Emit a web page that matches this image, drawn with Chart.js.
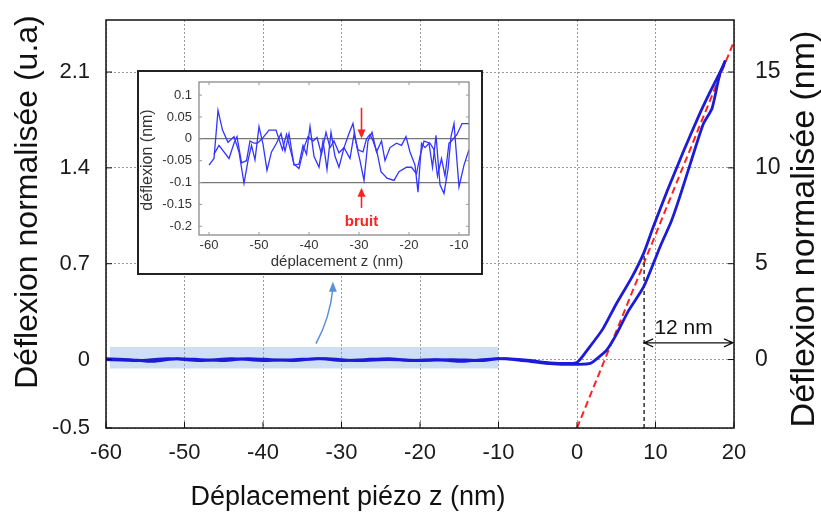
<!DOCTYPE html>
<html>
<head>
<meta charset="utf-8">
<script src="https://cdn.jsdelivr.net/npm/chart.js@4.4.1/dist/chart.umd.min.js"></script>
<style>
html, body { margin: 0; padding: 0; background: #fff; }
#wrap { position: relative; width: 821px; height: 517px; }
#main { position: absolute; left: 0; top: 0; }
#insetBox { position: absolute; left: 137px; top: 70px; width: 346px; height: 205px;
  box-sizing: border-box; border: 2px solid #222; background: #fff; }
#inset { display: block; }
</style>
</head>
<body>
<div id="wrap">
  <canvas id="main" width="821" height="517"></canvas>
  <div id="insetBox"><canvas id="inset" width="342" height="201"></canvas></div>
</div>
<script>
// ---- data (main plot, deflection in nm vs piezo z in nm) ----
const approachX = [-60,-57,-54,-51,-48,-45,-42,-39,-36,-33,-30,-27,-24,-21,-18,-15,-12,-9,-6,-4,-2,0,1.5,3.3,5,7,8.5,9.7,11.5,13.5,15.5,17,18.6,18.9];
const approachY = [0.05,0,-0.1,0.05,0,-0.05,0.05,0,-0.05,0.05,-0.05,0,0.05,-0.05,0,-0.1,0,0.05,-0.05,-0.15,-0.2,-0.15,0.6,1.6,2.9,4.3,5.55,6.9,8.8,10.8,12.7,14.0,15.3,15.6];
const retractX = [-60,-56,-52,-48,-44,-40,-36,-32,-28,-24,-20,-16,-12,-10,-8,-6,-4,-2,0,1.7,3,3.8,5,6.5,8.5,10.6,12,13.1,14.5,16.1,17.2,18.2,18.9];
const retractY = [0,-0.05,0.05,-0.05,0.05,-0.05,0,0.05,-0.05,0,-0.05,0,-0.05,0.05,0,-0.1,-0.2,-0.25,-0.25,-0.2,0.2,0.5,1.3,2.5,3.8,5.9,7.2,8.5,10.3,12.3,13.1,14.9,15.6];
const fitX = [0, 20];
const fitY = [-3.57, 16.6];
const markX = [8.55, 8.55];
const markY = [-3.57, 5.55];
const noiseBandX = [-59.5, -10];
const noiseBandY = [-0.47, 0.66];

const xTicks = [-60,-50,-40,-30,-20,-10,0,10,20];
const leftTicks = [-0.5, 0, 0.7, 1.4, 2.1];
const rightTicks = [0, 5, 10, 15];

// ---- data (inset, noise zoom) ----
const noise1X = [-60,-59,-58.2,-57.3,-56.2,-55,-54,-53,-52.2,-51.5,-50.8,-50,-49.2,-48.4,-47.5,-46.5,-45.6,-44.8,-44,-43,-42,-41.2,-40.5,-39.8,-39,-38,-37.2,-36.4,-35.6,-34.8,-34,-33,-32,-31.2,-30.4,-29.8,-29,-28.2,-27.4,-26.5,-25.5,-24.8,-23.8,-22.5,-21.5,-20.6,-19.8,-18.8,-18.2,-17.5,-16.8,-16,-15.3,-14.6,-13.8,-13,-12.2,-11.6,-11,-10,-9,-8];
const noise1Y = [-0.06,-0.045,0.065,0.02,-0.008,0.005,-0.03,-0.102,-0.05,-0.015,-0.048,0.028,-0.012,-0.072,-0.03,-0.01,0.012,-0.028,0.012,-0.06,-0.058,-0.015,-0.035,0.028,-0.04,-0.065,-0.005,-0.07,0.015,-0.04,-0.065,-0.02,0.012,0.035,-0.02,-0.05,-0.095,-0.005,0.015,-0.03,-0.005,-0.05,-0.02,-0.01,-0.015,0.005,-0.03,-0.06,-0.122,-0.01,-0.02,-0.01,-0.065,0.008,-0.105,-0.125,-0.07,0.005,0.035,-0.11,-0.06,-0.025];
const noise2X = [-59,-58,-56,-55,-54.4,-53.5,-52.5,-51.8,-51,-50.3,-49.4,-48,-46.6,-45.3,-44.5,-43,-42,-41,-40.2,-39.2,-38.4,-37.5,-36.6,-35.8,-35,-34,-33,-31.8,-31,-30.2,-29.2,-28.5,-27.8,-27.2,-26.4,-25.6,-24.4,-23,-22,-20.5,-19.5,-18.5,-17.8,-17,-15.8,-15,-14.3,-13.5,-12.8,-12,-11.5,-10.4,-9.4,-8];
const noise2Y = [-0.035,-0.015,-0.045,-0.01,0.005,-0.055,-0.05,-0.005,-0.01,-0.01,0,0.02,0.02,-0.025,0.01,-0.058,-0.068,-0.02,0.005,-0.005,0.003,-0.035,0.015,-0.02,-0.005,-0.032,-0.02,-0.045,0.01,-0.025,-0.03,0,0.01,-0.005,-0.03,-0.075,-0.09,-0.095,-0.075,-0.065,-0.065,-0.08,-0.04,-0.005,-0.01,-0.025,-0.085,-0.045,-0.085,-0.01,-0.005,0.01,0.035,0.035];
const insetXTicks = [-60,-50,-40,-30,-20,-10];
const insetYTicks = [0.1,0.05,0,-0.05,-0.1,-0.15,-0.2];
const noiseMarkX = -29.5;

const FONT = '"Liberation Sans", Arial, sans-serif';
const pts = (xs, ys) => xs.map((x, i) => ({ x: x, y: ys[i] }));

// ---------- main chart ----------
const mainDecor = {
  id: 'mainDecor',
  beforeDatasetsDraw(chart) {
    const { ctx, scales } = chart;
    const x1 = scales.x.getPixelForValue(noiseBandX[0]);
    const x2 = scales.x.getPixelForValue(noiseBandX[1]);
    const y1 = scales.yR.getPixelForValue(noiseBandY[1]);
    const y2 = scales.yR.getPixelForValue(noiseBandY[0]);
    ctx.save();
    ctx.fillStyle = 'rgba(125,168,230,0.38)';
    ctx.fillRect(x1, y1, x2 - x1, y2 - y1);
    ctx.restore();
  },
  afterDatasetsDraw(chart) {
    const { ctx, chartArea: a, scales } = chart;
    ctx.save();
    // frame
    ctx.strokeStyle = '#111';
    ctx.lineWidth = 1.5;
    ctx.strokeRect(a.left, a.top, a.right - a.left, a.bottom - a.top);
    // inward ticks
    ctx.lineWidth = 1;
    ctx.beginPath();
    xTicks.forEach(v => {
      const p = scales.x.getPixelForValue(v);
      ctx.moveTo(p, a.bottom); ctx.lineTo(p, a.bottom - 6);
    });
    leftTicks.forEach(v => {
      const p = scales.yL.getPixelForValue(v);
      ctx.moveTo(a.left, p); ctx.lineTo(a.left + 6, p);
    });
    rightTicks.forEach(v => {
      const p = scales.yR.getPixelForValue(v);
      ctx.moveTo(a.right, p); ctx.lineTo(a.right - 6, p);
    });
    ctx.stroke();

    // "12 nm" double arrow
    const ay = scales.yR.getPixelForValue(0.87);
    const ax1 = scales.x.getPixelForValue(markX[0]);
    const ax2 = scales.x.getPixelForValue(20) - 1;
    ctx.strokeStyle = '#111';
    ctx.lineWidth = 1.2;
    ctx.beginPath();
    ctx.moveTo(ax1, ay); ctx.lineTo(ax2, ay);
    ctx.moveTo(ax1 + 9, ay - 4); ctx.lineTo(ax1, ay); ctx.lineTo(ax1 + 9, ay + 4);
    ctx.moveTo(ax2 - 9, ay - 4); ctx.lineTo(ax2, ay); ctx.lineTo(ax2 - 9, ay + 4);
    ctx.stroke();
    ctx.fillStyle = '#111';
    ctx.font = '21px ' + FONT;
    ctx.textAlign = 'center';
    ctx.textBaseline = 'middle';
    ctx.fillText('12 nm', (ax1 + ax2) / 2 - 5, ay - 15);

    // blue arrow from noise band to inset
    const sx = scales.x.getPixelForValue(-33.25), sy = scales.yR.getPixelForValue(0.83);
    const ex = scales.x.getPixelForValue(-31.1), ey = scales.yR.getPixelForValue(3.9);
    ctx.strokeStyle = '#5b8fd6';
    ctx.fillStyle = '#5b8fd6';
    ctx.lineWidth = 1.5;
    ctx.beginPath();
    ctx.moveTo(sx, sy);
    ctx.quadraticCurveTo(ex - 3, (sy + ey) / 2 + 4, ex, ey + 4);
    ctx.stroke();
    ctx.beginPath();
    ctx.moveTo(ex, ey - 3); ctx.lineTo(ex - 4, ey + 7); ctx.lineTo(ex + 4, ey + 7); ctx.closePath();
    ctx.fill();

    // axis titles
    ctx.fillStyle = '#111';
    ctx.textAlign = 'center';
    ctx.textBaseline = 'middle';
    ctx.font = '27px ' + FONT;
    ctx.fillText('Déplacement piézo z (nm)', 348, 498);
    ctx.save();
    ctx.translate(28, 202);
    ctx.rotate(-Math.PI / 2);
    ctx.font = '32px ' + FONT;
    ctx.fillText('Déflexion normalisée (u.a)', 0, 0);
    ctx.restore();
    ctx.save();
    ctx.translate(805, 229);
    ctx.rotate(-Math.PI / 2);
    ctx.font = '34px ' + FONT;
    ctx.fillText('Déflexion normalisée (nm)', 0, 0);
    ctx.restore();
    ctx.restore();
  }
};

// vertical scales: no extra label padding, so the plot area keeps its place
const noPad = s => { s.paddingTop = 0; s.paddingBottom = 0; };

const blue = '#1c1cd6';
new Chart(document.getElementById('main'), {
  type: 'line',
  data: {
    datasets: [
      { label: 'approche', data: pts(approachX, approachY), yAxisID: 'yR',
        borderColor: blue, borderWidth: 2.8, pointRadius: 0, tension: 0.2 },
      { label: 'retrait', data: pts(retractX, retractY), yAxisID: 'yR',
        borderColor: blue, borderWidth: 2.8, pointRadius: 0, tension: 0.2 },
      { label: 'repère', data: pts(markX, markY), yAxisID: 'yR',
        borderColor: '#222', borderWidth: 1.4, borderDash: [4, 3], pointRadius: 0 },
      { label: 'ajustement', data: pts(fitX, fitY), yAxisID: 'yR',
        borderColor: '#ff2222', borderWidth: 2, borderDash: [7, 4], pointRadius: 0 }
    ]
  },
  options: {
    responsive: false,
    animation: false,
    devicePixelRatio: 1,
    layout: { padding: { top: 20, left: 0, right: 0, bottom: 0 } },
    plugins: { legend: { display: false }, tooltip: { enabled: false } },
    scales: {
      x: {
        type: 'linear', min: -60, max: 20,
        afterBuildTicks: s => { s.ticks = xTicks.map(v => ({ value: v })); },
        afterFit: s => { s.height = 89; },
        grid: { color: '#9a9a9a', lineWidth: 1, drawTicks: false },
        border: { display: false, dash: [2, 2] },
        ticks: { padding: 12, color: '#1a1a1a', font: { family: FONT, size: 22 },
          autoSkip: false, maxRotation: 0, callback: v => String(v) }
      },
      yL: {
        type: 'linear', position: 'left', min: -0.5, max: 2.48,
        afterBuildTicks: s => { s.ticks = leftTicks.map(v => ({ value: v })); },
        afterFit: s => { s.width = 106; noPad(s); },
        grid: { color: '#9a9a9a', lineWidth: 1, drawTicks: false },
        border: { display: false, dash: [2, 2] },
        ticks: { padding: 16, color: '#1a1a1a', font: { family: FONT, size: 22 },
          autoSkip: false, callback: v => String(v) }
      },
      yR: {
        type: 'linear', position: 'right', min: -3.5714, max: 17.714,
        afterBuildTicks: s => { s.ticks = rightTicks.map(v => ({ value: v })); },
        afterFit: s => { s.width = 87; noPad(s); },
        grid: { display: false, drawTicks: false },
        border: { display: false },
        ticks: { padding: 21, color: '#1a1a1a', font: { family: FONT, size: 23 },
          autoSkip: false, callback: v => String(v) }
      }
    }
  },
  plugins: [mainDecor]
});

// ---------- inset chart ----------
const insetDecor = {
  id: 'insetDecor',
  afterDatasetsDraw(chart) {
    const { ctx, chartArea: a, scales } = chart;
    ctx.save();
    ctx.strokeStyle = '#808080';
    ctx.lineWidth = 1.2;
    ctx.strokeRect(a.left, a.top, a.right - a.left, a.bottom - a.top);
    // small inward ticks
    ctx.lineWidth = 1;
    ctx.strokeStyle = '#999';
    ctx.beginPath();
    insetXTicks.forEach(v => {
      const p = scales.x.getPixelForValue(v);
      ctx.moveTo(p, a.bottom); ctx.lineTo(p, a.bottom - 3);
      ctx.moveTo(p, a.top); ctx.lineTo(p, a.top + 3);
    });
    insetYTicks.forEach(v => {
      const p = scales.y.getPixelForValue(v);
      ctx.moveTo(a.left, p); ctx.lineTo(a.left + 3, p);
      ctx.moveTo(a.right, p); ctx.lineTo(a.right - 3, p);
    });
    ctx.stroke();

    // red arrows + "bruit"
    const mx = scales.x.getPixelForValue(noiseMarkX);
    const red = '#ff2020';
    ctx.strokeStyle = red;
    ctx.fillStyle = red;
    ctx.lineWidth = 1.6;
    const t1 = scales.y.getPixelForValue(0.071), b1 = scales.y.getPixelForValue(0.001);
    ctx.beginPath(); ctx.moveTo(mx, t1); ctx.lineTo(mx, b1 - 6); ctx.stroke();
    ctx.beginPath(); ctx.moveTo(mx, b1); ctx.lineTo(mx - 4, b1 - 9); ctx.lineTo(mx + 4, b1 - 9); ctx.closePath(); ctx.fill();
    const t2 = scales.y.getPixelForValue(-0.112), b2 = scales.y.getPixelForValue(-0.158);
    ctx.beginPath(); ctx.moveTo(mx, b2); ctx.lineTo(mx, t2 + 6); ctx.stroke();
    ctx.beginPath(); ctx.moveTo(mx, t2); ctx.lineTo(mx - 4, t2 + 9); ctx.lineTo(mx + 4, t2 + 9); ctx.closePath(); ctx.fill();
    ctx.font = 'bold 15px ' + FONT;
    ctx.textAlign = 'center';
    ctx.textBaseline = 'middle';
    ctx.fillText('bruit', mx, scales.y.getPixelForValue(-0.19));

    // titles
    ctx.fillStyle = '#333';
    ctx.font = '15px ' + FONT;
    ctx.fillText('déplacement z (nm)', 198, 190);
    ctx.save();
    ctx.translate(13, 88);
    ctx.rotate(-Math.PI / 2);
    ctx.textBaseline = 'alphabetic';
    ctx.font = '16px ' + FONT;
    ctx.fillText('déflexion (nm)', 0, 0);
    ctx.restore();
    ctx.restore();
  }
};

const insetBlue = '#3434ff';
new Chart(document.getElementById('inset'), {
  type: 'line',
  data: {
    datasets: [
      { label: 'bruit 1', data: pts(noise1X, noise1Y), borderColor: insetBlue,
        borderWidth: 1.3, pointRadius: 0, tension: 0 },
      { label: 'bruit 2', data: pts(noise2X, noise2Y), borderColor: insetBlue,
        borderWidth: 1.3, pointRadius: 0, tension: 0 }
    ]
  },
  options: {
    responsive: false,
    animation: false,
    devicePixelRatio: 1,
    layout: { padding: { top: 10, right: 12, left: 0, bottom: 0 } },
    plugins: { legend: { display: false }, tooltip: { enabled: false } },
    scales: {
      x: {
        type: 'linear', min: -62, max: -8,
        afterBuildTicks: s => { s.ticks = insetXTicks.map(v => ({ value: v })); },
        afterFit: s => { s.height = 38; },
        grid: { display: false, drawTicks: false },
        border: { display: false },
        ticks: { padding: 3, color: '#333', font: { family: FONT, size: 13 },
          autoSkip: false, maxRotation: 0, callback: v => String(v) }
      },
      y: {
        type: 'linear', min: -0.22, max: 0.13,
        afterBuildTicks: s => { s.ticks = insetYTicks.map(v => ({ value: v })); },
        afterFit: s => { s.width = 60; noPad(s); },
        grid: { drawTicks: false, lineWidth: 1.2,
          color: c => (c.tick && (c.tick.value === 0 || c.tick.value === -0.1)) ? '#777' : 'rgba(0,0,0,0)' },
        border: { display: false },
        ticks: { padding: 7, color: '#333', font: { family: FONT, size: 13 },
          autoSkip: false, callback: v => String(v) }
      }
    }
  },
  plugins: [insetDecor]
});
</script>
</body>
</html>
